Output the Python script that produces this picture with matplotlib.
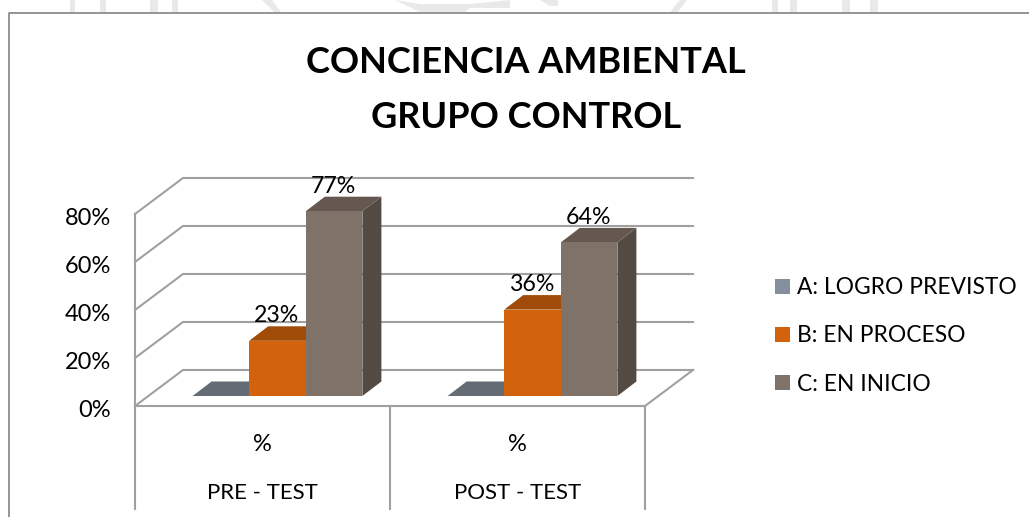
import matplotlib
matplotlib.use('Agg')
import matplotlib.pyplot as plt
from matplotlib.patches import Patch, Polygon
from matplotlib.transforms import ScaledTranslation

plt.rcParams['font.family'] = ['Lato', 'DejaVu Sans']

grupos = ['PRE - TEST', 'POST - TEST']
subcat = ['%', '%']
series = ['A: LOGRO PREVISTO', 'B: EN PROCESO', 'C: EN INICIO']
valores = [[0, 0], [23, 36], [77, 64]]
yticks = [0, 20, 40, 60, 80]

W, H = 1029, 517
col_front = ['#848e9c', '#d2620c', '#7f7269']
col_top = ['#636b75', '#a04c08', '#655850']
col_side = ['#4f555d', '#8a4207', '#544a44']
gris = '#a0a0a0'

fig = plt.figure(figsize=(W / 100, H / 100), dpi=100)
ax = fig.add_axes([135 / W, 1 - 406 / H, 510 / W, 192 / H])
ax.set_xlim(0, 2)
ax.set_ylim(0, 80)
ax.patch.set_visible(False)
for s in ax.spines.values():
    s.set_visible(False)

# profundidad del grafico 3d, en unidades de datos
px = 2 / 510
py = 80 / 192
fondo_x, fondo_y = 48 * px, 36 * py
prof_x, prof_y = 19 * px, 14.5 * py
base = 10 * py
ancho = 56.6 * px
lw = 1.5

ax.set_yticks(yticks)
ax.set_yticklabels([f'{v}%' for v in yticks], fontsize=17)
ax.tick_params(axis='y', length=0, pad=17.3)
for lab in ax.get_yticklabels():
    lab.set_transform(lab.get_transform() + ScaledTranslation(0, -2 / 72, fig.dpi_scale_trans))
ax.set_xticks([0.5, 1.5])
ax.set_xticklabels(subcat, fontsize=17)
ax.tick_params(axis='x', length=0, pad=20.5)

# paredes y rejilla
ax.plot([0, 0], [0, 80], color=gris, lw=lw, clip_on=False)
for v in yticks:
    ax.plot([0, fondo_x, 2 + fondo_x], [v, v + fondo_y, v + fondo_y], color=gris, lw=lw, clip_on=False, zorder=1)
ax.plot([0, 2, 2 + fondo_x], [0, 0, fondo_y], color=gris, lw=lw, clip_on=False, zorder=1)

# tabla de categorias bajo el eje
for x in [0, 1, 2]:
    ax.plot([x, x], [0, -103 * py], color=gris, lw=lw, clip_on=False)
for i, g in enumerate(grupos):
    ax.text(i + 0.5, -87 * py, g, ha='center', va='center', fontsize=16)

# barras
for i in range(2):
    centro = i + 0.5 + 15 * px
    for j in range(3):
        v = valores[j][i]
        x0 = centro + (j - 1.5) * ancho
        x1 = x0 + ancho
        y1 = base + v
        if v > 0:
            ax.add_patch(Polygon([(x1, base), (x1 + prof_x, base + prof_y), (x1 + prof_x, y1 + prof_y), (x1, y1)],
                                 facecolor=col_side[j], edgecolor='none', clip_on=False, zorder=2 + j))
        ax.add_patch(Polygon([(x0, y1), (x0 + prof_x, y1 + prof_y), (x1 + prof_x, y1 + prof_y), (x1, y1)],
                             facecolor=col_top[j], edgecolor='none', clip_on=False, zorder=2 + j))
        ax.bar(x0, v, width=ancho, bottom=base, align='edge', color=col_front[j], clip_on=False, zorder=2 + j)
        if v > 0:
            ax.text(x0 + ancho / 2 - 0.004, y1 + prof_y, f'{v}%', ha='center', va='bottom', fontsize=16.7, zorder=6)

# titulo
fig.text(525.5 / W, 1 - 63 / H, 'CONCIENCIA AMBIENTAL', ha='center', va='center', fontsize=26, fontweight='bold')
fig.text(526 / W, 1 - 117 / H, 'GRUPO CONTROL', ha='center', va='center', fontsize=26, fontweight='bold')

handles = [Patch(facecolor=c, edgecolor='none') for c in col_front]
fig.legend(handles, series, loc='center left', bbox_to_anchor=(754.5 / W, 1 - 336 / H), frameon=False,
           fontsize=16.4, handlelength=0.66, handleheight=0.66, handletextpad=0.3, labelspacing=1.19, borderpad=0.4)

# marco del grafico
fig.add_artist(plt.Line2D([9 / W, 9 / W, 1], [0, 1 - 13 / H, 1 - 13 / H], color='#8c8c8c', lw=1.3))

# marca de agua de la pagina
for x0, x1 in [(70, 75), (100, 106), (150, 158), (172, 178), (772, 778), (790, 797), (842, 850), (870, 878)]:
    fig.add_artist(Polygon([(x0 / W, 1), (x1 / W, 1), (x1 / W, 1 - 12 / H), (x0 / W, 1 - 12 / H)],
                           transform=fig.transFigure, facecolor='#e9e9e9', edgecolor='none'))
for pts in [[(262, 0), (272, 0), (281, 12), (274, 12)],
            [(395, 0), (420, 4), (470, 4), (510, 0), (510, 8), (470, 8), (465, 12), (420, 12)],
            [(540, 0), (558, 0), (558, 6), (550, 6)],
            [(680, 0), (687, 0), (678, 12), (670, 12)]]:
    fig.add_artist(Polygon([(x / W, 1 - y / H) for x, y in pts], transform=fig.transFigure,
                           facecolor='#e9e9e9', edgecolor='none'))

fig.savefig('out.png', dpi=100)
